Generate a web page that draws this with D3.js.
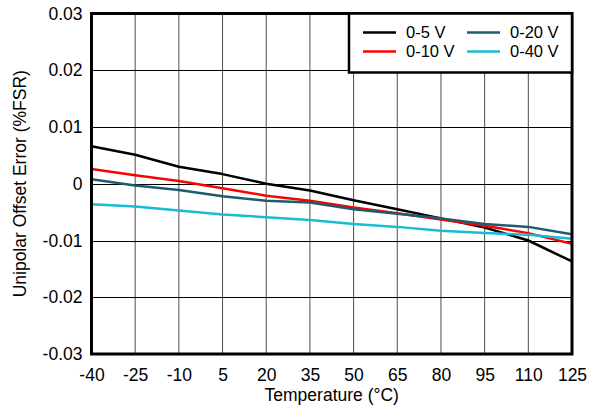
<!DOCTYPE html>
<html><head><meta charset="utf-8">
<script src="https://cdn.jsdelivr.net/npm/d3@7"></script>
<style>body{margin:0;background:#fff}svg{display:block}text{font-family:"Liberation Sans",Arial,sans-serif}</style>
</head><body><div id="chart"></div>
<script>
const temps = [-40,-25,-10,5,20,35,50,65,80,95,110,125];
const xTicks = [-40,-25,-10,5,20,35,50,65,80,95,110,125];
const xTickLabels = ["-40","-25","-10","5","20","35","50","65","80","95","110","125"];
const yTicks = [-0.03,-0.02,-0.01,0,0.01,0.02,0.03];
const yTickLabels = ["-0.03","-0.02","-0.01","0","0.01","0.02","0.03"];
const seriesNames = ["0-5 V","0-10 V","0-20 V","0-40 V"];
const seriesColors = ["#000000","#ff0000","#1d5b70","#17bcd2"];
const v5  = [0.0066,0.0051,0.0030,0.0017,0.0000,-0.0012,-0.0029,-0.0045,-0.0061,-0.0077,-0.0100,-0.0137];
const v10 = [0.0026,0.0015,0.0005,-0.0008,-0.0021,-0.0030,-0.0042,-0.0052,-0.0063,-0.0074,-0.0087,-0.0106];
const v20 = [0.0008,-0.0003,-0.0011,-0.0022,-0.0030,-0.0033,-0.0045,-0.0053,-0.0061,-0.0071,-0.0076,-0.0089];
const v40 = [-0.0036,-0.0040,-0.0047,-0.0054,-0.0059,-0.0064,-0.0071,-0.0076,-0.0083,-0.0087,-0.0090,-0.0097];
const seriesValues = [v5,v10,v20,v40];

const W=600,H=408, FS=17.5, LFS=16.5;
const m={l:91.5,r:28,t:13.5,b:54};
const svg=d3.select("#chart").append("svg").attr("width",W).attr("height",H);
const x=d3.scaleLinear().domain([-40,125]).range([m.l,W-m.r]);
const y=d3.scaleLinear().domain([-0.03,0.03]).range([H-m.b,m.t]);

// grid
svg.append("g").selectAll("line").data(xTicks).join("line")
  .attr("x1",d=>x(d)).attr("x2",d=>x(d)).attr("y1",y(-0.03)).attr("y2",y(0.03))
  .attr("stroke","#000").attr("stroke-width",1).attr("opacity",0.7);
svg.append("g").selectAll("line").data(yTicks).join("line")
  .attr("y1",d=>Math.round(y(d))+0.5).attr("y2",d=>Math.round(y(d))+0.5).attr("x1",x(-40)).attr("x2",x(125))
  .attr("stroke","#000").attr("stroke-width",1);

// axes
const xAxis=d3.axisBottom(x).tickValues(xTicks).tickSize(0).tickPadding(15).tickFormat((d,i)=>xTickLabels[i]);
const gx=svg.append("g").attr("transform",`translate(0,${y(-0.03)})`).call(xAxis);
gx.select(".domain").remove();
gx.selectAll("text").attr("font-size",FS).attr("fill","#000").attr("font-family","Liberation Sans, Arial, sans-serif");
const yAxis=d3.axisLeft(y).tickValues(yTicks).tickSize(0).tickPadding(9).tickFormat((d,i)=>yTickLabels[i]);
const gy=svg.append("g").attr("transform",`translate(${x(-40)},0)`).call(yAxis);
gy.select(".domain").remove();
gy.selectAll("text").attr("font-size",FS).attr("fill","#000").attr("font-family","Liberation Sans, Arial, sans-serif");

// lines
const line=d3.line().x((d,i)=>x(temps[i])).y(d=>y(d));
svg.append("defs").append("clipPath").attr("id","clip").append("rect")
  .attr("x",x(-40)).attr("y",y(0.03)).attr("width",x(125)-x(-40)).attr("height",y(-0.03)-y(0.03));
const gl=svg.append("g").attr("clip-path","url(#clip)");
seriesValues.forEach((vals,k)=>{
  gl.append("path").datum(vals).attr("d",line).attr("fill","none")
    .attr("stroke",seriesColors[k]).attr("stroke-width",2.5).attr("stroke-linejoin","round");
});

// border
svg.append("rect").attr("x",x(-40)).attr("y",y(0.03)).attr("width",x(125)-x(-40)).attr("height",y(-0.03)-y(0.03))
  .attr("fill","none").attr("stroke","#000").attr("stroke-width",3);

// legend
const lg=svg.append("g");
lg.append("rect").attr("x",349).attr("y",y(0.03)).attr("width",x(125)-349).attr("height",59)
  .attr("fill","#fff").attr("stroke","#000").attr("stroke-width",2.5);
const lpos=[[363,406,32.5],[363,406,51.5],[467,510,32.5],[467,510,51.5]];
seriesNames.forEach((n,k)=>{
  const [lx,tx,ly]=lpos[k];
  lg.append("line").attr("x1",lx).attr("x2",lx+33).attr("y1",ly).attr("y2",ly)
    .attr("stroke",seriesColors[k]).attr("stroke-width",2.5);
  lg.append("text").attr("x",tx).attr("y",ly).attr("dy","0.35em").attr("font-size",LFS).text(n);
});

// titles
svg.append("text").attr("x",(x(-40)+x(125))/2).attr("y",401).attr("text-anchor","middle").attr("font-size",FS).text("Temperature (°C)");
svg.append("text").attr("transform",`translate(26,${y(0)}) rotate(-90)`).attr("text-anchor","middle").attr("font-size",FS).text("Unipolar Offset Error (%FSR)");
</script></body></html>
